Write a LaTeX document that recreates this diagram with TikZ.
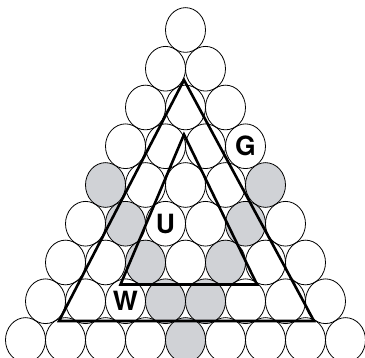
\documentclass[tikz,border=0pt]{standalone}
\usepackage{fontspec}
\setmainfont{TeX Gyre Heros}
\usetikzlibrary{shapes.geometric}
\definecolor{ballgray}{RGB}{208,210,214}
\tikzset{
    ball/.style={ellipse,draw,line width=0.8pt,inner sep=0pt,
        minimum width=40pt,minimum height=44.7pt},
    shaded/.style={fill=ballgray},
    % which balls are grey
    ball 5-1/.style={shaded}, ball 5-5/.style={shaded},
    ball 6-2/.style={shaded}, ball 6-5/.style={shaded},
    ball 7-3/.style={shaded}, ball 7-5/.style={shaded},
    ball 8-4/.style={shaded}, ball 8-5/.style={shaded},
    ball 9-5/.style={shaded},
    letter/.style={font=\fontsize{26.5}{26.5}\selectfont\bfseries},
    frame/.style={line width=2.6pt,line join=miter}
}
\begin{document}
\begin{tikzpicture}[x=1pt,y=-1pt]
        \useasboundingbox (0,0) rectangle (365,358);
        \foreach \r in {1,...,9}
            \foreach \c in {1,...,\r}
                \node[ball,ball \r-\c/.try] (b\r-\c)
                    at ({185.5+40*(\c-(\r+1)/2)},{30+38.75*(\r-1)}) {};
        \node[letter] (G) at (b4-4) {G};
        \node[letter] (U) at (b6-3) {U};
        \node[letter] (W) at (b8-3) {W};
        % outer and inner triangle
        \coordinate (top) at (184,80);
        \coordinate (left) at (59,321);
        \coordinate (right) at (314,321);
        \coordinate (itop) at (184,134.5);
        \coordinate (ileft) at (120.5,284.5);
        \coordinate (iright) at (257,284.5);
        \draw[frame] (top) -- (left) -- (right) -- cycle;
        \draw[frame] (itop) -- (ileft) -- (iright) -- cycle;
    \end{tikzpicture}
\end{document}
